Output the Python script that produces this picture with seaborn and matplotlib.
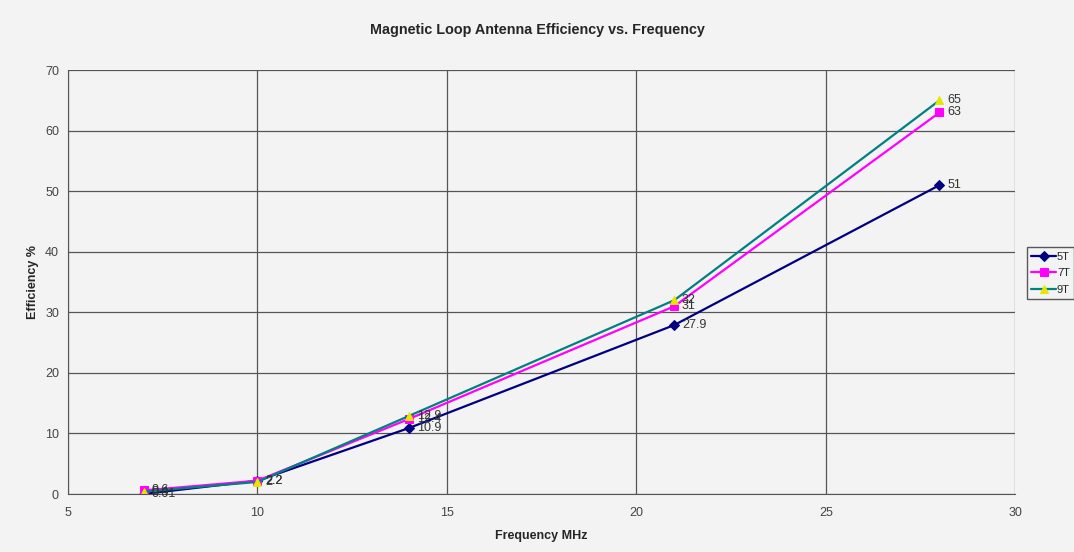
import numpy as np
import pandas as pd
import seaborn as sns
import matplotlib.pyplot as plt

# Data
freq = [7, 10, 14, 21, 28]
eff_5t = [0.01, 2.2, 10.9, 27.9, 51]
eff_7t = [0.6, 2.2, 12.4, 31, 63]
eff_9t = [0.4, 2.0, 12.9, 32, 65]
series_names = ["5T", "7T", "9T"]

df = pd.DataFrame({
    "Frequency MHz": freq * 3,
    "Efficiency %": eff_5t + eff_7t + eff_9t,
    "Turns": [n for n in series_names for _ in freq],
})

sns.set_style("white")
plt.rcParams["font.family"] = ["Liberation Sans", "DejaVu Sans"]

bg = "#f3f3f3"
fig = plt.figure(figsize=(10.74, 5.52), dpi=100, facecolor=bg)
ax = fig.add_axes([0.0633, 0.105, 0.882, 0.768])
ax.set_facecolor(bg)

palette = {"5T": "#000080", "7T": "#ff00ff", "9T": "#008080"}
markers = {"5T": "D", "7T": "s", "9T": "^"}
mfaces = {"5T": "#000080", "7T": "#ff00ff", "9T": "#e6e600"}

for name in series_names:
    sub = df[df["Turns"] == name]
    sns.lineplot(data=sub, x="Frequency MHz", y="Efficiency %", ax=ax,
                 color=palette[name], lw=1.6, label=name, legend=False,
                 marker=markers[name], markersize=6 if name != "5T" else 5,
                 markerfacecolor=mfaces[name], markeredgecolor=mfaces[name])
    # data labels, Excel style, just right of each point
    for x, y in zip(sub["Frequency MHz"], sub["Efficiency %"]):
        ax.text(x + 0.2, y, f"{y:g}", fontsize=9, color="#333333",
                va="center", ha="left")

ax.set_xlim(5, 30)
ax.set_ylim(0, 70)
ax.set_xticks(range(5, 31, 5))
ax.set_yticks(range(0, 71, 10))
ax.grid(True, color="#555555", lw=0.9)
ax.tick_params(axis="both", labelsize=9, colors="#444444", length=3, direction="out")
ax.tick_params(axis="x", pad=6)
for side in ["left", "bottom"]:
    ax.spines[side].set_color("#555555")
for side in ["top", "right"]:
    ax.spines[side].set_visible(False)

ax.set_xlabel("Frequency MHz", fontsize=9, fontweight="bold", labelpad=8)
ax.set_ylabel("Efficiency %", fontsize=9, fontweight="bold", labelpad=4)
fig.suptitle("Magnetic Loop Antenna Efficiency vs. Frequency", fontsize=10.4,
             fontweight="bold", y=0.958)

handles, labels = ax.get_legend_handles_labels()
leg = fig.legend(handles, labels, loc="center left", bbox_to_anchor=(0.951, 0.505),
                 fontsize=8, frameon=True, fancybox=False, handlelength=2.2,
                 handletextpad=0.1, borderpad=0.4, labelspacing=0.6)
leg.get_frame().set_edgecolor("#333333")
leg.get_frame().set_facecolor(bg)

fig.savefig("out.png", dpi=100, facecolor=bg)
